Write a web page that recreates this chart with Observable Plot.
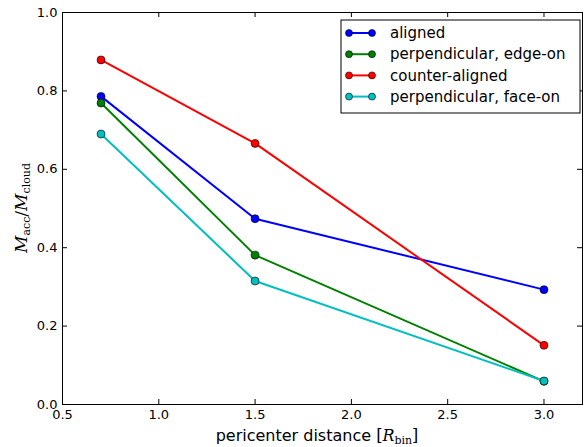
<!DOCTYPE html>
<html><head><meta charset="utf-8">
<script src="https://cdn.jsdelivr.net/npm/d3@7"></script>
<script src="https://cdn.jsdelivr.net/npm/@observablehq/plot@0.6"></script>
<style>body{margin:0;background:#fff}#chart svg{font-family:"DejaVu Sans",sans-serif}</style>
</head><body><div id="chart"></div>
<script>
const distances = [0.7, 1.5, 3.0];
const seriesNames = ["aligned", "perpendicular, edge-on", "counter-aligned", "perpendicular, face-on"];
const seriesColors = ["#0000ff", "#008000", "#ff0000", "#00bfbf"];
const aligned = [0.786, 0.474, 0.293];
const edgeOn = [0.769, 0.381, 0.059];
const counterAligned = [0.879, 0.666, 0.151];
const faceOn = [0.690, 0.315, 0.060];
const xTicks = [0.5, 1.0, 1.5, 2.0, 2.5, 3.0];
const yTicks = [0.0, 0.2, 0.4, 0.6, 0.8, 1.0];

const seriesValues = [aligned, edgeOn, counterAligned, faceOn];
const data = seriesNames.flatMap((name, i) =>
  distances.map((x, j) => ({series: name, x, y: seriesValues[i][j]})));

const W = 587, H = 447, mL = 62, mR = 5, mT = 12, mB = 43;
const pw = W - mL - mR, ph = H - mT - mB;

const plot = Plot.plot({
  width: W, height: H,
  marginLeft: mL, marginRight: mR, marginTop: mT, marginBottom: mB,
  style: {fontFamily: "DejaVu Sans", fontSize: "13px", color: "#000", background: "#fff"},
  x: {domain: [0.5, 3.2]},
  y: {domain: [0, 1]},
  color: {domain: seriesNames, range: seriesColors},
  marks: [
    Plot.axisX(xTicks, {tickSize: 0, tickPadding: 5, tickFormat: d3.format(".1f"), label: null, fontSize: 13}),
    Plot.axisY(yTicks, {tickSize: 0, tickPadding: 5, tickFormat: d3.format(".1f"), label: null, fontSize: 13}),
    Plot.tickX(xTicks, {x: d => d, insetTop: ph - 5, stroke: "black"}),
    Plot.tickX(xTicks, {x: d => d, insetBottom: ph - 5, stroke: "black"}),
    Plot.tickY(yTicks, {y: d => d, insetRight: pw - 5, stroke: "black"}),
    Plot.tickY(yTicks, {y: d => d, insetLeft: pw - 5, stroke: "black"}),
    Plot.line(data, {x: "x", y: "y", z: "series", stroke: "series", strokeWidth: 2}),
    Plot.dot(data, {x: "x", y: "y", fill: "series", stroke: "black", strokeWidth: 0.6, r: 4}),
    Plot.frame({stroke: "black", strokeWidth: 1})
  ]
});
document.getElementById("chart").appendChild(plot);

const svg = d3.select(plot);
// x label
const xl = svg.append("text").attr("x", mL + pw / 2 - 5).attr("y", H - 6)
  .attr("text-anchor", "middle").attr("font-size", 16).attr("fill", "black");
xl.append("tspan").text("pericenter distance ");
xl.append("tspan").attr("font-family", "DejaVu Serif").text("[");
xl.append("tspan").attr("font-family", "DejaVu Serif").attr("font-style", "italic").text("R");
xl.append("tspan").attr("font-family", "DejaVu Serif").attr("font-size", 11).attr("dy", 3).text("bin");
xl.append("tspan").attr("font-family", "DejaVu Serif").attr("dy", -3).text("]");

// y label
const yl = svg.append("text").attr("transform", `translate(27,${mT + ph / 2}) rotate(-90)`)
  .attr("text-anchor", "middle").attr("font-size", 17).attr("fill", "black").attr("font-family", "DejaVu Serif");
yl.append("tspan").attr("font-style", "italic").text("M");
yl.append("tspan").attr("font-size", 11).attr("dy", 3).text("acc");
yl.append("tspan").attr("dy", -3).text("/");
yl.append("tspan").attr("font-style", "italic").text("M");
yl.append("tspan").attr("font-size", 11).attr("dy", 3).text("cloud");

// legend
const lg = svg.append("g").attr("font-size", 15).attr("text-anchor", "start");
lg.append("rect").attr("x", 341).attr("y", 20).attr("width", 239).attr("height", 93)
  .attr("fill", "white").attr("stroke", "black").attr("stroke-width", 1);
seriesNames.forEach((name, i) => {
  const yy = 33 + i * 21.2;
  lg.append("line").attr("x1", 349).attr("x2", 372).attr("y1", yy).attr("y2", yy)
    .attr("stroke", seriesColors[i]).attr("stroke-width", 2);
  [349, 372].forEach(cx => lg.append("circle").attr("cx", cx).attr("cy", yy).attr("r", 3.5)
    .attr("fill", seriesColors[i]).attr("stroke", "black").attr("stroke-width", 0.6));
  lg.append("text").attr("x", 390).attr("y", yy).attr("dy", "0.35em").attr("fill", "black")
    .attr("text-anchor", "start").text(name);
});
</script>
</body></html>
